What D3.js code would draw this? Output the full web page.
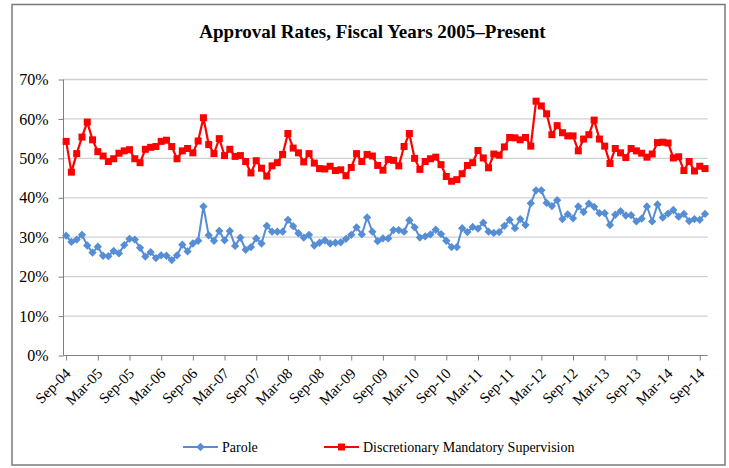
<!DOCTYPE html>
<html>
<head>
<meta charset="utf-8">
<title>Approval Rates</title>
<script src="https://cdn.jsdelivr.net/npm/d3@7"></script>
<style>
  body { margin: 0; background: #fff; }
  svg { display: block; }
  svg text { font-family: "Liberation Serif", "Times New Roman", serif !important; fill: #000; }
</style>
</head>
<body>
<script>
// monthly approval rates (%), Sep-04 .. Oct-14
var parole = [
  30.4, 28.8, 29.4, 30.6, 27.9, 26.1, 27.6, 25.3, 25.2, 26.5,
  25.9, 28.0, 29.6, 29.4, 27.3, 25.1, 26.2, 24.7, 25.4, 25.3,
  24.2, 25.4, 28.1, 26.4, 28.4, 29.1, 37.8, 30.5, 29.1, 31.6,
  29.2, 31.6, 27.8, 29.9, 26.8, 27.5, 29.7, 28.4, 32.9, 31.4,
  31.4, 31.4, 34.4, 32.8, 31.0, 29.9, 30.6, 27.9, 28.6, 29.2,
  28.4, 28.6, 28.7, 29.6, 30.6, 32.5, 30.7, 35.0, 31.4, 29.0,
  29.7, 29.7, 31.8, 31.8, 31.4, 34.3, 32.5, 29.9, 30.2, 30.7,
  31.9, 30.8, 29.1, 27.5, 27.5, 32.3, 31.3, 32.6, 32.2, 33.7,
  31.4, 31.1, 31.3, 32.9, 34.4, 32.3, 34.6, 33.1, 38.6, 41.9,
  41.9, 38.7, 37.9, 39.4, 34.6, 35.8, 34.8, 37.8, 36.4, 38.5,
  37.7, 36.1, 36.1, 33.1, 35.7, 36.6, 35.5, 35.6, 34.0, 34.7,
  37.8, 34.0, 38.3, 35.0, 36.0, 36.9, 35.2, 35.9, 34.1, 34.6,
  34.4, 35.9
];
var dms = [
  54.3, 46.5, 51.2, 55.4, 59.2, 54.7, 51.7, 50.6, 49.2, 49.9,
  51.3, 51.9, 52.2, 49.9, 48.9, 52.3, 52.8, 53.0, 54.3, 54.6,
  53.0, 49.9, 51.9, 52.5, 51.4, 54.4, 60.3, 53.5, 51.2, 55.0,
  50.7, 52.3, 50.5, 50.7, 49.2, 46.3, 49.4, 47.5, 45.5, 48.1,
  48.9, 51.0, 56.3, 52.6, 51.4, 49.1, 51.2, 48.8, 47.4, 47.3,
  48.0, 46.9, 47.1, 45.6, 47.7, 51.2, 49.2, 51.0, 50.6, 48.2,
  47.0, 49.7, 49.5, 48.1, 53.0, 56.3, 50.0, 47.2, 49.2, 49.9,
  50.3, 48.4, 45.4, 44.2, 44.6, 46.1, 48.2, 48.9, 52.0, 50.1,
  47.6, 51.1, 50.8, 52.9, 55.3, 55.2, 54.7, 55.3, 53.1, 64.5,
  63.3, 61.3, 56.0, 58.3, 56.5, 55.7, 55.7, 51.9, 54.9, 56.0,
  59.7, 54.9, 53.1, 48.7, 52.5, 51.4, 50.2, 52.5, 51.9, 51.3,
  50.3, 51.1, 54.0, 54.1, 53.9, 50.1, 50.4, 46.9, 49.2, 46.8,
  48.0, 47.4
];
var tickLabels = ["Sep-04","Mar-05","Sep-05","Mar-06","Sep-06","Mar-07","Sep-07","Mar-08",
  "Sep-08","Mar-09","Sep-09","Mar-10","Sep-10","Mar-11","Sep-11","Mar-12",
  "Sep-12","Mar-13","Sep-13","Mar-14","Sep-14"];
var yTicks = [0, 10, 20, 30, 40, 50, 60, 70];
var seriesNames = ["Parole", "Discretionary Mandatory Supervision"];

var W = 729, H = 468;
var svg = d3.select("body").append("svg").attr("width", W).attr("height", H);

// outer frame
svg.append("rect").attr("x", 12).attr("y", 4.5).attr("width", 713).attr("height", 460.5)
  .attr("fill", "none").attr("stroke", "#7a7a7a").attr("stroke-width", 1.5);

svg.append("text").attr("x", 372.5).attr("y", 38).attr("text-anchor", "middle")
  .attr("font-size", 19).attr("font-weight", "bold").text("Approval Rates, Fiscal Years 2005\u2013Present");

var n = dms.length;
var left = 63.5, step = 5.28;
var x = d3.scaleLinear().domain([-0.5, n - 0.5]).range([left, left + n * step]);
var y = d3.scaleLinear().domain([0, 70]).range([355.5, 79.5]);

// gridlines
svg.append("g").selectAll("line").data(yTicks.slice(1)).enter().append("line")
  .attr("x1", left).attr("x2", x(n - 0.5))
  .attr("y1", function(d) { return y(d); }).attr("y2", function(d) { return y(d); })
  .attr("stroke", "#d0d0d0").attr("stroke-width", 1.3);

// y axis
var yAxis = svg.append("g").attr("transform", "translate(" + left + ",0)")
  .call(d3.axisLeft(y).tickValues(yTicks).tickSize(5).tickPadding(10)
    .tickFormat(function(d) { return d + "%"; }));
yAxis.selectAll("text").attr("font-size", 16);
yAxis.selectAll("line").attr("stroke", "#7f7f7f");
yAxis.select(".domain").attr("stroke", "#7f7f7f").attr("d", "M0," + y(70) + "V" + y(0));

// x axis
var xAxis = svg.append("g").attr("transform", "translate(0," + y(0) + ")")
  .call(d3.axisBottom(x).tickValues(d3.range(0, 121, 6)).tickSize(5)
    .tickFormat(function(d) { return tickLabels[d / 6]; }));
xAxis.select(".domain").attr("stroke", "#7f7f7f").attr("d", "M" + left + ",0H" + x(n - 0.5));
xAxis.selectAll("line").attr("stroke", "#7f7f7f");
xAxis.selectAll("text").attr("font-size", 15)
  .attr("text-anchor", "end").attr("dy", null).attr("y", 0)
  .attr("transform", "translate(5,19) rotate(-45)");

var line = d3.line().x(function(d, i) { return x(i); }).y(function(d) { return y(d); });

// parole series
svg.append("path").datum(parole).attr("d", line).attr("fill", "none")
  .attr("stroke", "#558ed5").attr("stroke-width", 2);
svg.append("g").selectAll("path").data(parole).enter().append("path")
  .attr("d", d3.symbol().type(d3.symbolDiamond2).size(44))
  .attr("transform", function(d, i) { return "translate(" + x(i) + "," + y(d) + ")"; })
  .attr("fill", "#558ed5");

// dms series
svg.append("path").datum(dms).attr("d", line).attr("fill", "none")
  .attr("stroke", "#ff0000").attr("stroke-width", 2.2);
svg.append("g").selectAll("rect").data(dms).enter().append("rect")
  .attr("x", function(d, i) { return x(i) - 3.5; }).attr("y", function(d) { return y(d) - 3.5; })
  .attr("width", 7).attr("height", 7).attr("fill", "#ff0000");

// legend
var lg = svg.append("g");
var legendX = [183, 324], legendColors = ["#558ed5", "#ff0000"];
seriesNames.forEach(function(name, k) {
  var lx = legendX[k], ly = 447;
  lg.append("line").attr("x1", lx).attr("x2", lx + 35).attr("y1", ly).attr("y2", ly)
    .attr("stroke", legendColors[k]).attr("stroke-width", 2);
  if (k === 0) {
    lg.append("path").attr("d", d3.symbol().type(d3.symbolDiamond2).size(44))
      .attr("transform", "translate(" + (lx + 17.5) + "," + ly + ")").attr("fill", legendColors[k]);
  } else {
    lg.append("rect").attr("x", lx + 14).attr("y", ly - 3.5).attr("width", 7).attr("height", 7)
      .attr("fill", legendColors[k]);
  }
  lg.append("text").attr("x", lx + 39).attr("y", ly + 5).attr("font-size", 14).text(name);
});
</script>
</body>
</html>
